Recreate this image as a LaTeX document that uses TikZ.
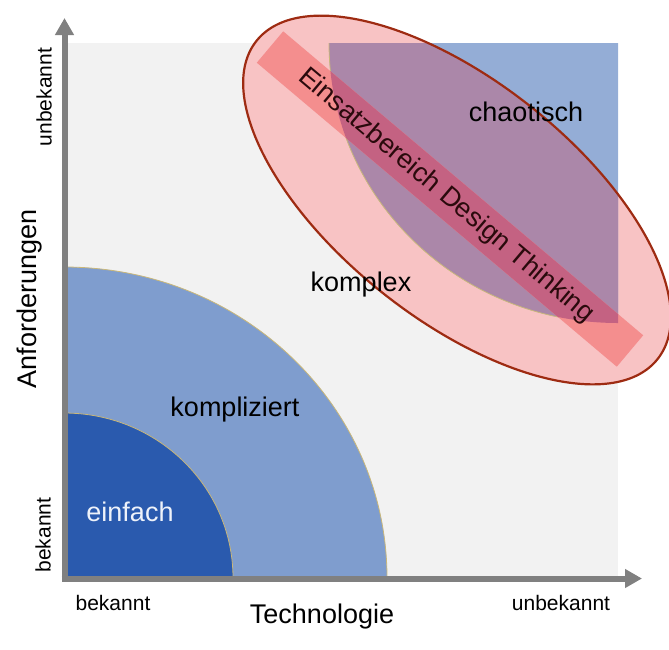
\documentclass[tikz,border=0pt]{standalone}
\usepackage{fontspec}
\setmainfont{Liberation Sans}
\usetikzlibrary{arrows.meta}
\definecolor{bgc}{HTML}{F2F2F2}
\definecolor{axisc}{HTML}{808080}
\definecolor{dblue}{HTML}{2A5AAE}
\definecolor{mblue}{HTML}{7F9DCE}
\definecolor{cblue}{HTML}{94ADD6}
\definecolor{purplec}{HTML}{AB87A9}
\definecolor{pinkc}{HTML}{F8C3C4}
\definecolor{bandpink}{HTML}{F48E8E}
\definecolor{bandpurple}{HTML}{C46282}
\definecolor{elline}{HTML}{9E2B12}
\definecolor{arcline}{HTML}{C9B77A}
\definecolor{einfc}{HTML}{EEF2FA}
\definecolor{bandtext}{HTML}{2A0A0C}
\begin{document}
\begin{tikzpicture}[x=1pt,y=-1pt,
  biglabel/.style={inner sep=0pt, font=\fontsize{27}{32}\selectfont},
  smalllabel/.style={inner sep=0pt, font=\fontsize{21}{25}\selectfont},
  axisline/.style={draw=axisc, line width=6pt, -{Triangle[width=18pt,length=17pt]}},
  ellpath/.style={insert path={[rotate around={-38.4:(457,200)}] (457,200) ellipse[x radius=256,y radius=119]}},
  chaospath/.style={insert path={(618,43) -- (329,43) arc[start angle=180,end angle=90,x radius=289,y radius=280] -- cycle}},
  bandpath/.style={insert path={(283.2,31.3) -- (643.2,335.3) -- (616.8,366.7) -- (256.8,62.7) -- cycle}}
]
\useasboundingbox (0,0) rectangle (669,649);
% background field
\fill[bgc] (64,43) rectangle (618,578);
% kompliziert / einfach
\filldraw[fill=mblue, draw=arcline, line width=0.8pt] (64,578) -- (387,578) arc[start angle=0,end angle=-90,x radius=323,y radius=311] -- cycle;
\filldraw[fill=dblue, draw=arcline, line width=0.8pt] (64,578) -- (233,578) arc[start angle=0,end angle=-90,x radius=169,y radius=165] -- cycle;
% ellipse fill
\fill[pinkc, ellpath];
% chaotisch
\fill[cblue, chaospath];
\begin{scope}
  \clip[ellpath];
  \fill[purplec, chaospath];
\end{scope}
\draw[arcline, line width=0.8pt] (329,43) arc[start angle=180,end angle=90,x radius=289,y radius=280];
% band
\fill[bandpink, bandpath];
\begin{scope}
  \clip[chaospath];
  \fill[bandpurple, bandpath];
\end{scope}
% ellipse outline
\draw[elline, line width=2.2pt, ellpath];
% axes
\coordinate (O) at (64.5,581);
\coordinate (ytip) at (64.5,18);
\coordinate (O2) at (61.5,578.5);
\coordinate (xtip) at (642,578.5);
\draw[axisline] (O) -- (ytip);
\draw[axisline] (O2) -- (xtip);
% labels
\node[biglabel, text=einfc] (einfach) at (130,512) {einfach};
\node[biglabel] (kompliziert) at (235,410) {kompliziert};
\node[biglabel] (komplex) at (361,285) {komplex};
\node[biglabel] (chaotisch) at (526,112) {chaotisch};
\node[biglabel, text=bandtext, rotate=-40.2] (dt) at (446,196) {Einsatzbereich Design Thinking};
\node[biglabel] (technologie) at (322,617) {Technologie};
\node[biglabel, rotate=90] (anforderungen) at (30,299) {Anforderungen};
\node[smalllabel] (xbek) at (113,603) {bekannt};
\node[smalllabel] (xunbek) at (561,603) {unbekannt};
\node[smalllabel, rotate=90] (ybek) at (43,535) {bekannt};
\node[smalllabel, rotate=90] (yunbek) at (44,97) {unbekannt};
\end{tikzpicture}
\end{document}
